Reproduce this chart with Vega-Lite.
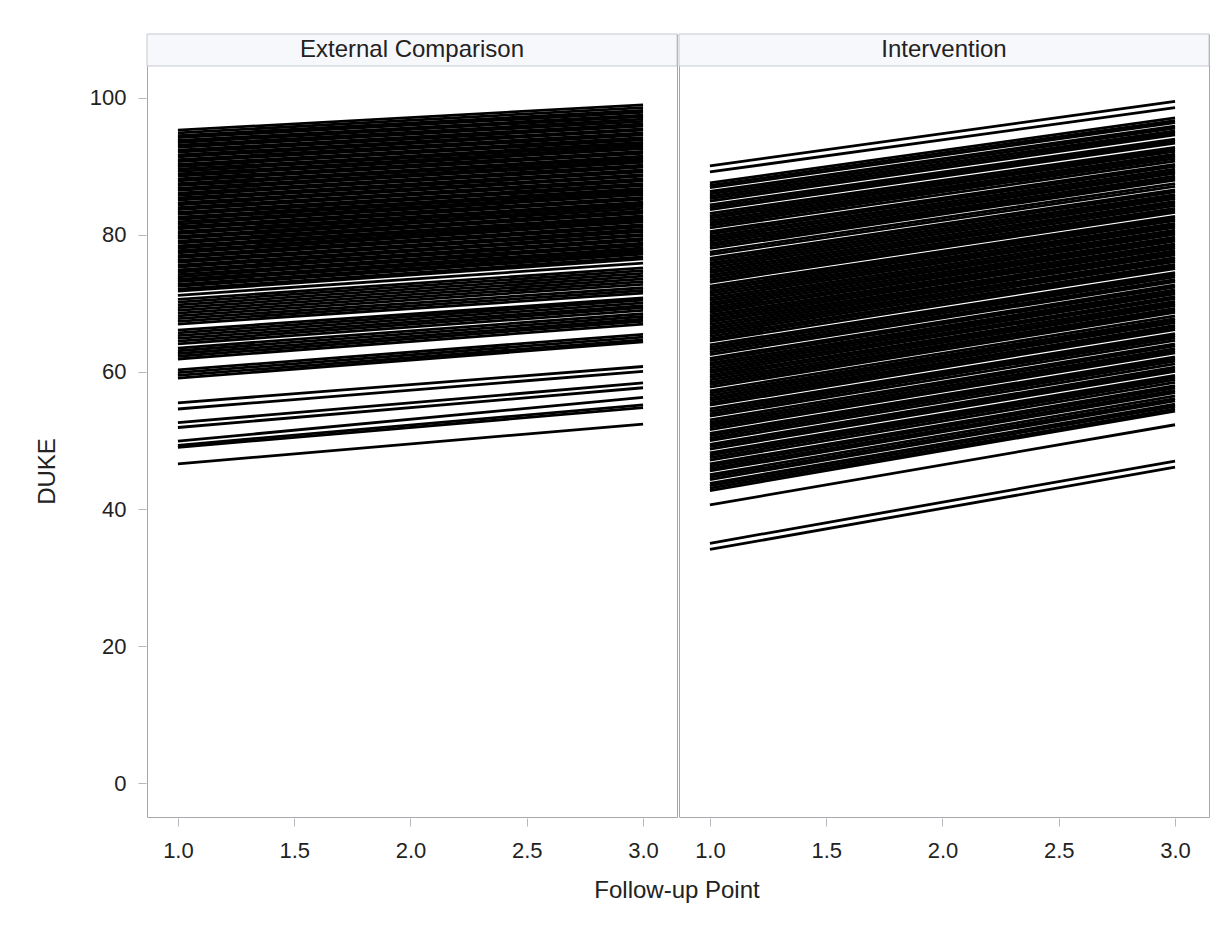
{
  "$schema": "https://vega.github.io/schema/vega-lite/v6.json",
  "background": "white",
  "padding": {"left": 35, "top": 33, "right": 10, "bottom": 5},
  "title": {"text": "Follow-up Point", "orient": "bottom", "anchor": "middle", "frame": "group", "dx": 530, "offset": 18, "fontSize": 24, "fontWeight": "normal", "font": "Liberation Sans", "color": "#222222"},
  "config": {
    "font": "Liberation Sans",
    "view": {"stroke": "#a4a8ac", "strokeWidth": 1},
    "axis": {"grid": false, "domain": false, "tickColor": "#b4b8bc", "labelColor": "#222222", "titleColor": "#222222", "labelFont": "Liberation Sans", "titleFont": "Liberation Sans", "labelFontSize": 22, "titleFontSize": 24, "titleFontWeight": "normal"}
  },
  "data": {"values": [
    {"group": "External Comparison", "duke_fu1": 95.3, "duke_fu3": 99.0},
    {"group": "External Comparison", "duke_fu1": 94.9, "duke_fu3": 98.6},
    {"group": "External Comparison", "duke_fu1": 94.5, "duke_fu3": 98.2},
    {"group": "External Comparison", "duke_fu1": 94.2, "duke_fu3": 97.9},
    {"group": "External Comparison", "duke_fu1": 93.8, "duke_fu3": 97.5},
    {"group": "External Comparison", "duke_fu1": 93.5, "duke_fu3": 97.3},
    {"group": "External Comparison", "duke_fu1": 93.1, "duke_fu3": 96.9},
    {"group": "External Comparison", "duke_fu1": 92.8, "duke_fu3": 96.6},
    {"group": "External Comparison", "duke_fu1": 92.4, "duke_fu3": 96.2},
    {"group": "External Comparison", "duke_fu1": 92.1, "duke_fu3": 95.9},
    {"group": "External Comparison", "duke_fu1": 91.7, "duke_fu3": 95.5},
    {"group": "External Comparison", "duke_fu1": 91.4, "duke_fu3": 95.3},
    {"group": "External Comparison", "duke_fu1": 91.0, "duke_fu3": 94.9},
    {"group": "External Comparison", "duke_fu1": 90.7, "duke_fu3": 94.6},
    {"group": "External Comparison", "duke_fu1": 90.3, "duke_fu3": 94.2},
    {"group": "External Comparison", "duke_fu1": 90.0, "duke_fu3": 93.9},
    {"group": "External Comparison", "duke_fu1": 89.6, "duke_fu3": 93.5},
    {"group": "External Comparison", "duke_fu1": 89.3, "duke_fu3": 93.2},
    {"group": "External Comparison", "duke_fu1": 88.9, "duke_fu3": 92.9},
    {"group": "External Comparison", "duke_fu1": 88.6, "duke_fu3": 92.6},
    {"group": "External Comparison", "duke_fu1": 88.2, "duke_fu3": 92.2},
    {"group": "External Comparison", "duke_fu1": 87.9, "duke_fu3": 91.9},
    {"group": "External Comparison", "duke_fu1": 87.5, "duke_fu3": 91.5},
    {"group": "External Comparison", "duke_fu1": 87.2, "duke_fu3": 91.2},
    {"group": "External Comparison", "duke_fu1": 86.8, "duke_fu3": 90.9},
    {"group": "External Comparison", "duke_fu1": 86.5, "duke_fu3": 90.6},
    {"group": "External Comparison", "duke_fu1": 86.1, "duke_fu3": 90.2},
    {"group": "External Comparison", "duke_fu1": 85.8, "duke_fu3": 89.9},
    {"group": "External Comparison", "duke_fu1": 85.4, "duke_fu3": 89.5},
    {"group": "External Comparison", "duke_fu1": 85.1, "duke_fu3": 89.2},
    {"group": "External Comparison", "duke_fu1": 84.7, "duke_fu3": 88.8},
    {"group": "External Comparison", "duke_fu1": 84.4, "duke_fu3": 88.6},
    {"group": "External Comparison", "duke_fu1": 84.0, "duke_fu3": 88.2},
    {"group": "External Comparison", "duke_fu1": 83.7, "duke_fu3": 87.9},
    {"group": "External Comparison", "duke_fu1": 83.3, "duke_fu3": 87.5},
    {"group": "External Comparison", "duke_fu1": 83.0, "duke_fu3": 87.2},
    {"group": "External Comparison", "duke_fu1": 82.6, "duke_fu3": 86.8},
    {"group": "External Comparison", "duke_fu1": 82.3, "duke_fu3": 86.5},
    {"group": "External Comparison", "duke_fu1": 81.9, "duke_fu3": 86.2},
    {"group": "External Comparison", "duke_fu1": 81.6, "duke_fu3": 85.9},
    {"group": "External Comparison", "duke_fu1": 81.2, "duke_fu3": 85.5},
    {"group": "External Comparison", "duke_fu1": 80.9, "duke_fu3": 85.2},
    {"group": "External Comparison", "duke_fu1": 80.5, "duke_fu3": 84.8},
    {"group": "External Comparison", "duke_fu1": 80.2, "duke_fu3": 84.5},
    {"group": "External Comparison", "duke_fu1": 79.8, "duke_fu3": 84.2},
    {"group": "External Comparison", "duke_fu1": 79.5, "duke_fu3": 83.9},
    {"group": "External Comparison", "duke_fu1": 79.1, "duke_fu3": 83.5},
    {"group": "External Comparison", "duke_fu1": 78.8, "duke_fu3": 83.2},
    {"group": "External Comparison", "duke_fu1": 78.4, "duke_fu3": 82.8},
    {"group": "External Comparison", "duke_fu1": 78.1, "duke_fu3": 82.5},
    {"group": "External Comparison", "duke_fu1": 77.7, "duke_fu3": 82.2},
    {"group": "External Comparison", "duke_fu1": 77.4, "duke_fu3": 81.9},
    {"group": "External Comparison", "duke_fu1": 77.0, "duke_fu3": 81.5},
    {"group": "External Comparison", "duke_fu1": 76.7, "duke_fu3": 81.2},
    {"group": "External Comparison", "duke_fu1": 76.3, "duke_fu3": 80.8},
    {"group": "External Comparison", "duke_fu1": 76.0, "duke_fu3": 80.5},
    {"group": "External Comparison", "duke_fu1": 75.6, "duke_fu3": 80.1},
    {"group": "External Comparison", "duke_fu1": 75.3, "duke_fu3": 79.9},
    {"group": "External Comparison", "duke_fu1": 74.9, "duke_fu3": 79.5},
    {"group": "External Comparison", "duke_fu1": 74.6, "duke_fu3": 79.2},
    {"group": "External Comparison", "duke_fu1": 74.2, "duke_fu3": 78.8},
    {"group": "External Comparison", "duke_fu1": 73.9, "duke_fu3": 78.5},
    {"group": "External Comparison", "duke_fu1": 73.5, "duke_fu3": 78.1},
    {"group": "External Comparison", "duke_fu1": 73.2, "duke_fu3": 77.8},
    {"group": "External Comparison", "duke_fu1": 72.8, "duke_fu3": 77.5},
    {"group": "External Comparison", "duke_fu1": 72.5, "duke_fu3": 77.2},
    {"group": "External Comparison", "duke_fu1": 72.1, "duke_fu3": 76.8},
    {"group": "External Comparison", "duke_fu1": 71.8, "duke_fu3": 76.5},
    {"group": "External Comparison", "duke_fu1": 71.2, "duke_fu3": 75.9},
    {"group": "External Comparison", "duke_fu1": 70.6, "duke_fu3": 75.2},
    {"group": "External Comparison", "duke_fu1": 70.2, "duke_fu3": 74.8},
    {"group": "External Comparison", "duke_fu1": 69.8, "duke_fu3": 74.4},
    {"group": "External Comparison", "duke_fu1": 69.4, "duke_fu3": 74.0},
    {"group": "External Comparison", "duke_fu1": 69.0, "duke_fu3": 73.6},
    {"group": "External Comparison", "duke_fu1": 68.6, "duke_fu3": 73.2},
    {"group": "External Comparison", "duke_fu1": 68.2, "duke_fu3": 72.8},
    {"group": "External Comparison", "duke_fu1": 67.8, "duke_fu3": 72.3},
    {"group": "External Comparison", "duke_fu1": 67.4, "duke_fu3": 71.9},
    {"group": "External Comparison", "duke_fu1": 67.0, "duke_fu3": 71.5},
    {"group": "External Comparison", "duke_fu1": 66.1, "duke_fu3": 70.8},
    {"group": "External Comparison", "duke_fu1": 65.7, "duke_fu3": 70.5},
    {"group": "External Comparison", "duke_fu1": 65.3, "duke_fu3": 70.1},
    {"group": "External Comparison", "duke_fu1": 64.9, "duke_fu3": 69.7},
    {"group": "External Comparison", "duke_fu1": 64.5, "duke_fu3": 69.4},
    {"group": "External Comparison", "duke_fu1": 64.1, "duke_fu3": 69.0},
    {"group": "External Comparison", "duke_fu1": 63.5, "duke_fu3": 68.5},
    {"group": "External Comparison", "duke_fu1": 63.1, "duke_fu3": 68.1},
    {"group": "External Comparison", "duke_fu1": 62.7, "duke_fu3": 67.7},
    {"group": "External Comparison", "duke_fu1": 62.3, "duke_fu3": 67.4},
    {"group": "External Comparison", "duke_fu1": 61.9, "duke_fu3": 67.0},
    {"group": "External Comparison", "duke_fu1": 60.3, "duke_fu3": 65.5},
    {"group": "External Comparison", "duke_fu1": 59.9, "duke_fu3": 65.1},
    {"group": "External Comparison", "duke_fu1": 59.5, "duke_fu3": 64.7},
    {"group": "External Comparison", "duke_fu1": 59.1, "duke_fu3": 64.4},
    {"group": "External Comparison", "duke_fu1": 55.5, "duke_fu3": 60.8},
    {"group": "External Comparison", "duke_fu1": 54.6, "duke_fu3": 60.1},
    {"group": "External Comparison", "duke_fu1": 52.6, "duke_fu3": 58.4},
    {"group": "External Comparison", "duke_fu1": 51.9, "duke_fu3": 57.7},
    {"group": "External Comparison", "duke_fu1": 49.9, "duke_fu3": 56.3},
    {"group": "External Comparison", "duke_fu1": 49.3, "duke_fu3": 55.2},
    {"group": "External Comparison", "duke_fu1": 49.0, "duke_fu3": 54.8},
    {"group": "External Comparison", "duke_fu1": 46.6, "duke_fu3": 52.4},
    {"group": "Intervention", "duke_fu1": 90.1, "duke_fu3": 99.5},
    {"group": "Intervention", "duke_fu1": 89.2, "duke_fu3": 98.6},
    {"group": "Intervention", "duke_fu1": 87.6, "duke_fu3": 97.1},
    {"group": "Intervention", "duke_fu1": 87.25, "duke_fu3": 96.7},
    {"group": "Intervention", "duke_fu1": 86.9, "duke_fu3": 96.4},
    {"group": "Intervention", "duke_fu1": 86.35, "duke_fu3": 95.9},
    {"group": "Intervention", "duke_fu1": 86.0, "duke_fu3": 95.6},
    {"group": "Intervention", "duke_fu1": 85.65, "duke_fu3": 95.2},
    {"group": "Intervention", "duke_fu1": 85.3, "duke_fu3": 94.9},
    {"group": "Intervention", "duke_fu1": 84.95, "duke_fu3": 94.6},
    {"group": "Intervention", "duke_fu1": 84.4, "duke_fu3": 94.0},
    {"group": "Intervention", "duke_fu1": 84.05, "duke_fu3": 93.7},
    {"group": "Intervention", "duke_fu1": 83.7, "duke_fu3": 93.4},
    {"group": "Intervention", "duke_fu1": 83.15, "duke_fu3": 92.8},
    {"group": "Intervention", "duke_fu1": 82.8, "duke_fu3": 92.5},
    {"group": "Intervention", "duke_fu1": 82.45, "duke_fu3": 92.2},
    {"group": "Intervention", "duke_fu1": 82.1, "duke_fu3": 91.8},
    {"group": "Intervention", "duke_fu1": 81.75, "duke_fu3": 91.5},
    {"group": "Intervention", "duke_fu1": 81.4, "duke_fu3": 91.2},
    {"group": "Intervention", "duke_fu1": 81.05, "duke_fu3": 90.8},
    {"group": "Intervention", "duke_fu1": 80.5, "duke_fu3": 90.3},
    {"group": "Intervention", "duke_fu1": 80.15, "duke_fu3": 90.0},
    {"group": "Intervention", "duke_fu1": 79.8, "duke_fu3": 89.6},
    {"group": "Intervention", "duke_fu1": 79.45, "duke_fu3": 89.3},
    {"group": "Intervention", "duke_fu1": 79.1, "duke_fu3": 89.0},
    {"group": "Intervention", "duke_fu1": 78.75, "duke_fu3": 88.6},
    {"group": "Intervention", "duke_fu1": 78.4, "duke_fu3": 88.3},
    {"group": "Intervention", "duke_fu1": 78.05, "duke_fu3": 88.0},
    {"group": "Intervention", "duke_fu1": 77.5, "duke_fu3": 87.5},
    {"group": "Intervention", "duke_fu1": 77.15, "duke_fu3": 87.1},
    {"group": "Intervention", "duke_fu1": 76.6, "duke_fu3": 86.6},
    {"group": "Intervention", "duke_fu1": 76.25, "duke_fu3": 86.3},
    {"group": "Intervention", "duke_fu1": 75.9, "duke_fu3": 85.9},
    {"group": "Intervention", "duke_fu1": 75.55, "duke_fu3": 85.6},
    {"group": "Intervention", "duke_fu1": 75.2, "duke_fu3": 85.3},
    {"group": "Intervention", "duke_fu1": 74.85, "duke_fu3": 84.9},
    {"group": "Intervention", "duke_fu1": 74.5, "duke_fu3": 84.6},
    {"group": "Intervention", "duke_fu1": 74.15, "duke_fu3": 84.3},
    {"group": "Intervention", "duke_fu1": 73.8, "duke_fu3": 83.9},
    {"group": "Intervention", "duke_fu1": 73.45, "duke_fu3": 83.6},
    {"group": "Intervention", "duke_fu1": 73.1, "duke_fu3": 83.3},
    {"group": "Intervention", "duke_fu1": 72.55, "duke_fu3": 82.7},
    {"group": "Intervention", "duke_fu1": 72.2, "duke_fu3": 82.4},
    {"group": "Intervention", "duke_fu1": 71.85, "duke_fu3": 82.1},
    {"group": "Intervention", "duke_fu1": 71.5, "duke_fu3": 81.7},
    {"group": "Intervention", "duke_fu1": 71.15, "duke_fu3": 81.4},
    {"group": "Intervention", "duke_fu1": 70.8, "duke_fu3": 81.1},
    {"group": "Intervention", "duke_fu1": 70.45, "duke_fu3": 80.7},
    {"group": "Intervention", "duke_fu1": 70.1, "duke_fu3": 80.4},
    {"group": "Intervention", "duke_fu1": 69.75, "duke_fu3": 80.1},
    {"group": "Intervention", "duke_fu1": 69.4, "duke_fu3": 79.7},
    {"group": "Intervention", "duke_fu1": 69.05, "duke_fu3": 79.4},
    {"group": "Intervention", "duke_fu1": 68.7, "duke_fu3": 79.1},
    {"group": "Intervention", "duke_fu1": 68.35, "duke_fu3": 78.7},
    {"group": "Intervention", "duke_fu1": 68.0, "duke_fu3": 78.4},
    {"group": "Intervention", "duke_fu1": 67.65, "duke_fu3": 78.1},
    {"group": "Intervention", "duke_fu1": 67.3, "duke_fu3": 77.7},
    {"group": "Intervention", "duke_fu1": 66.95, "duke_fu3": 77.4},
    {"group": "Intervention", "duke_fu1": 66.6, "duke_fu3": 77.1},
    {"group": "Intervention", "duke_fu1": 66.25, "duke_fu3": 76.7},
    {"group": "Intervention", "duke_fu1": 65.9, "duke_fu3": 76.4},
    {"group": "Intervention", "duke_fu1": 65.55, "duke_fu3": 76.1},
    {"group": "Intervention", "duke_fu1": 65.2, "duke_fu3": 75.7},
    {"group": "Intervention", "duke_fu1": 64.85, "duke_fu3": 75.4},
    {"group": "Intervention", "duke_fu1": 64.5, "duke_fu3": 75.1},
    {"group": "Intervention", "duke_fu1": 63.95, "duke_fu3": 74.5},
    {"group": "Intervention", "duke_fu1": 63.6, "duke_fu3": 74.2},
    {"group": "Intervention", "duke_fu1": 63.25, "duke_fu3": 73.9},
    {"group": "Intervention", "duke_fu1": 62.9, "duke_fu3": 73.5},
    {"group": "Intervention", "duke_fu1": 62.55, "duke_fu3": 73.2},
    {"group": "Intervention", "duke_fu1": 62.0, "duke_fu3": 72.7},
    {"group": "Intervention", "duke_fu1": 61.65, "duke_fu3": 72.4},
    {"group": "Intervention", "duke_fu1": 61.3, "duke_fu3": 72.0},
    {"group": "Intervention", "duke_fu1": 60.95, "duke_fu3": 71.7},
    {"group": "Intervention", "duke_fu1": 60.6, "duke_fu3": 71.4},
    {"group": "Intervention", "duke_fu1": 60.25, "duke_fu3": 71.0},
    {"group": "Intervention", "duke_fu1": 59.9, "duke_fu3": 70.7},
    {"group": "Intervention", "duke_fu1": 59.55, "duke_fu3": 70.3},
    {"group": "Intervention", "duke_fu1": 59.2, "duke_fu3": 70.0},
    {"group": "Intervention", "duke_fu1": 58.85, "duke_fu3": 69.7},
    {"group": "Intervention", "duke_fu1": 58.5, "duke_fu3": 69.3},
    {"group": "Intervention", "duke_fu1": 58.15, "duke_fu3": 69.0},
    {"group": "Intervention", "duke_fu1": 57.8, "duke_fu3": 68.7},
    {"group": "Intervention", "duke_fu1": 57.25, "duke_fu3": 68.2},
    {"group": "Intervention", "duke_fu1": 56.9, "duke_fu3": 67.8},
    {"group": "Intervention", "duke_fu1": 56.55, "duke_fu3": 67.5},
    {"group": "Intervention", "duke_fu1": 56.2, "duke_fu3": 67.2},
    {"group": "Intervention", "duke_fu1": 55.85, "duke_fu3": 66.8},
    {"group": "Intervention", "duke_fu1": 55.5, "duke_fu3": 66.5},
    {"group": "Intervention", "duke_fu1": 55.15, "duke_fu3": 66.2},
    {"group": "Intervention", "duke_fu1": 54.6, "duke_fu3": 65.6},
    {"group": "Intervention", "duke_fu1": 54.25, "duke_fu3": 65.3},
    {"group": "Intervention", "duke_fu1": 53.9, "duke_fu3": 65.0},
    {"group": "Intervention", "duke_fu1": 53.55, "duke_fu3": 64.6},
    {"group": "Intervention", "duke_fu1": 53.0, "duke_fu3": 64.1},
    {"group": "Intervention", "duke_fu1": 52.65, "duke_fu3": 63.8},
    {"group": "Intervention", "duke_fu1": 52.3, "duke_fu3": 63.4},
    {"group": "Intervention", "duke_fu1": 51.95, "duke_fu3": 63.1},
    {"group": "Intervention", "duke_fu1": 51.6, "duke_fu3": 62.8},
    {"group": "Intervention", "duke_fu1": 51.05, "duke_fu3": 62.2},
    {"group": "Intervention", "duke_fu1": 50.7, "duke_fu3": 61.9},
    {"group": "Intervention", "duke_fu1": 50.35, "duke_fu3": 61.6},
    {"group": "Intervention", "duke_fu1": 50.0, "duke_fu3": 61.2},
    {"group": "Intervention", "duke_fu1": 49.45, "duke_fu3": 60.7},
    {"group": "Intervention", "duke_fu1": 49.1, "duke_fu3": 60.4},
    {"group": "Intervention", "duke_fu1": 48.75, "duke_fu3": 60.1},
    {"group": "Intervention", "duke_fu1": 48.2, "duke_fu3": 59.5},
    {"group": "Intervention", "duke_fu1": 47.85, "duke_fu3": 59.2},
    {"group": "Intervention", "duke_fu1": 47.5, "duke_fu3": 58.9},
    {"group": "Intervention", "duke_fu1": 47.15, "duke_fu3": 58.5},
    {"group": "Intervention", "duke_fu1": 46.6, "duke_fu3": 58.0},
    {"group": "Intervention", "duke_fu1": 46.25, "duke_fu3": 57.7},
    {"group": "Intervention", "duke_fu1": 45.9, "duke_fu3": 57.3},
    {"group": "Intervention", "duke_fu1": 45.55, "duke_fu3": 57.0},
    {"group": "Intervention", "duke_fu1": 45.0, "duke_fu3": 56.5},
    {"group": "Intervention", "duke_fu1": 44.65, "duke_fu3": 56.1},
    {"group": "Intervention", "duke_fu1": 44.3, "duke_fu3": 55.8},
    {"group": "Intervention", "duke_fu1": 43.75, "duke_fu3": 55.3},
    {"group": "Intervention", "duke_fu1": 43.4, "duke_fu3": 55.0},
    {"group": "Intervention", "duke_fu1": 43.05, "duke_fu3": 54.6},
    {"group": "Intervention", "duke_fu1": 42.7, "duke_fu3": 54.3},
    {"group": "Intervention", "duke_fu1": 40.6, "duke_fu3": 52.3},
    {"group": "Intervention", "duke_fu1": 35.0, "duke_fu3": 47.0},
    {"group": "Intervention", "duke_fu1": 34.1, "duke_fu3": 46.1}
  ]},
  "facet": {
    "column": {"field": "group", "type": "nominal", "sort": ["External Comparison", "Intervention"], "header": {"labels": false, "title": null}}
  },
  "spacing": 0,
  "spec": {
    "width": 530,
    "height": 783,
    "layer": [
      {
        "transform": [{"aggregate": [{"op": "count", "as": "n"}], "groupby": ["group"]}],
        "mark": {"type": "rect", "fill": "#f7f8fc", "stroke": "#c4c8cc", "strokeWidth": 1},
        "encoding": {
          "y": {"datum": 104.67, "type": "quantitative", "title": "DUKE"},
          "y2": {"datum": 109.34}
        }
      },
      {
        "mark": {"type": "rule", "color": "black", "strokeWidth": 2.8},
        "encoding": {
          "x": {"datum": 1, "type": "quantitative", "title": null,
                "scale": {"domain": [0.867, 3.146], "nice": false, "zero": false},
                "axis": {"values": [1, 1.5, 2, 2.5, 3], "format": ".1f", "tickSize": 8, "labelPadding": 14}},
          "x2": {"datum": 3},
          "y": {"field": "duke_fu1", "type": "quantitative", "title": "DUKE",
                "scale": {"domain": [-4.96, 109.34], "nice": false, "zero": false},
                "axis": {"values": [0, 20, 40, 60, 80, 100], "tickSize": 8, "labelPadding": 12, "titlePadding": 30, "titleY": 437}},
          "y2": {"field": "duke_fu3"}
        }
      },
      {
        "transform": [{"aggregate": [{"op": "count", "as": "n"}], "groupby": ["group"]}],
        "mark": {"type": "text", "fontSize": 24, "color": "#222222", "baseline": "middle", "font": "Liberation Sans"},
        "encoding": {
          "y": {"datum": 107.0, "type": "quantitative", "title": "DUKE"},
          "text": {"field": "group"}
        }
      }
    ]
  }
}
